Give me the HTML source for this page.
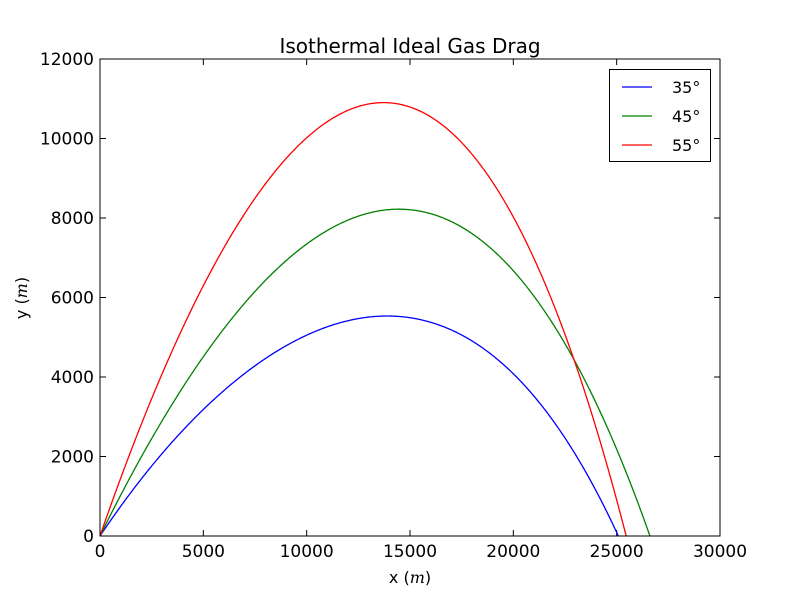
<!DOCTYPE html>
<html><head><meta charset="utf-8"><style>
body{margin:0;background:#fff}
svg{display:block}
text{font-family:"DejaVu Sans","Liberation Sans",sans-serif;fill:#000}
</style></head><body>
<svg id="chart" width="800" height="596" viewBox="0 0 800 596" xmlns="http://www.w3.org/2000/svg">
<rect width="800" height="596" fill="#fff"/>
<g id="plot"></g>
<rect x="100" y="59" width="620" height="477" fill="none" stroke="#000" stroke-width="1"/>
<text x="410" y="53" text-anchor="middle" font-size="20">Isothermal Ideal Gas Drag</text>
<text x="410" y="583" text-anchor="middle" font-size="16">x (<tspan font-family="DejaVu Serif, serif" font-style="italic">m</tspan>)</text>
<text transform="translate(27,298) rotate(-90)" text-anchor="middle" font-size="16">y (<tspan font-family="DejaVu Serif, serif" font-style="italic">m</tspan>)</text>
<g>
<rect x="609.5" y="69.5" width="101" height="92" fill="#fff" stroke="#000"/>
<g id="legend"></g>
</g>
</svg>
<script>
const xTicks=[0,5000,10000,15000,20000,25000,30000];
const yTicks=[0,2000,4000,6000,8000,10000,12000];
const seriesLabels=["35°","45°","55°"];
const seriesColors=["#0000ff","#008000","#ff0000"];
const x35=[0,2900,6770,10000,11450,14100,17580,18870,20970,23070,24200,25080];
const y35=[0,2000,4000,5030,5370,5540,5030,4570,3520,2010,1010,0];
const x45=[0,2020,4270,5860,7500,10000,12260,14520,17100,19190,20970,22340,22940,25240,26610];
const y45=[0,2000,4000,5030,6040,7550,8050,8195,7800,7040,6040,5030,4440,2010,0];
const x55=[0,1370,2900,3900,4840,5570,7580,9680,11610,13630,15970,17740,19360,20970,21820,22550,22940,24280,25460];
const y55=[0,2000,4000,5030,6040,7040,8550,9810,10570,10920,10570,9810,8550,7040,6040,5030,4440,2010,0];
const NS="http://www.w3.org/2000/svg";
const X=v=>100+v/30000*620, Y=v=>536-v/12000*477;
const plot=document.getElementById('plot');
function mk(t,a,p){const e=document.createElementNS(NS,t);for(const k in a)e.setAttribute(k,a[k]);(p||plot).appendChild(e);return e;}
xTicks.forEach(t=>{
 const g=mk('g',{});
 
 
 mk('line',{x1:X(t),x2:X(t),y1:536,y2:530,stroke:'#000'},g);
 mk('line',{x1:X(t),x2:X(t),y1:59,y2:65,stroke:'#000'},g);
 const tx=mk('text',{x:X(t),y:557,'text-anchor':'middle','font-size':17},g);tx.textContent=t;
});
yTicks.forEach(t=>{
 const g=mk('g',{});
 
 
 mk('line',{x1:100,x2:106,y1:Y(t),y2:Y(t),stroke:'#000'},g);
 mk('line',{x1:720,x2:714,y1:Y(t),y2:Y(t),stroke:'#000'},g);
 const tx=mk('text',{x:94,y:Y(t)+6,'text-anchor':'end','font-size':17},g);tx.textContent=t;
});
// least-squares smooth fit: y = u(1-u)(a + b u + c u^2), u = x/R
function fit(xs,ys){
 const R=xs[xs.length-1];
 const M=[[0,0,0],[0,0,0],[0,0,0]],v=[0,0,0];
 xs.forEach((x,i)=>{const u=x/R,w=u*(1-u),f=[w,w*u,w*u*u];
  for(let r=0;r<3;r++){v[r]+=f[r]*ys[i];for(let k=0;k<3;k++)M[r][k]+=f[r]*f[k];}});
 for(let i=0;i<3;i++){for(let r=i+1;r<3;r++){const m=M[r][i]/M[i][i];for(let k=i;k<3;k++)M[r][k]-=m*M[i][k];v[r]-=m*v[i];}}
 const c=[0,0,0];
 for(let i=2;i>=0;i--){let s=v[i];for(let k=i+1;k<3;k++)s-=M[i][k]*c[k];c[i]=s/M[i][i];}
 return x=>{const u=x/R;return u*(1-u)*(c[0]+c[1]*u+c[2]*u*u);};
}
function path(xs,ys){
 const f=fit(xs,ys),end=xs[xs.length-1];
 let d='M'+X(0)+','+Y(0);
 for(let x=50;x<end;x+=50)d+=' L'+X(x).toFixed(2)+','+Y(f(x)).toFixed(2);
 d+=' L'+X(end)+','+Y(0);
 return d;
}
const data=[[x35,y35],[x45,y45],[x55,y55]];
const names=['series-35deg','series-45deg','series-55deg'];
data.forEach((s,i)=>{
 const l=mk('path',{d:path(s[0],s[1]),fill:'none',stroke:seriesColors[i],'stroke-width':1.3,'stroke-linejoin':'round'});
 
 
});
const leg=document.getElementById('legend');
seriesLabels.forEach((lab,i)=>{
 const y=87+i*29;
 const g=mk('g',{},leg);
 
 
 mk('line',{x1:622,x2:652,y1:y,y2:y,stroke:seriesColors[i],'stroke-width':1.3},g);
 const t=mk('text',{x:672,y:y+6,'font-size':16,'font-family':'DejaVu Serif, serif'},g);t.textContent=lab;
});
</script>
</body></html>
